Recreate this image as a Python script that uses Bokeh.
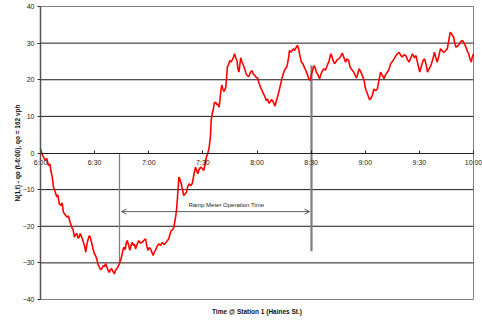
import math
from bokeh.plotting import figure
from bokeh.models import LinearAxis, FixedTicker, Arrow, OpenHead, Label
from bokeh.embed import file_html
from bokeh.resources import INLINE

# Cumulative count deviation, minutes after 6:00
minutes = [0, 0.8, 2.6, 3.5, 4.4, 5.2, 5.9, 6.5, 7.2, 8.1, 9.0, 9.6, 10.4, 11.4, 12.0, 12.7, 13.6, 14.6,
           15.5, 16.4, 17.4, 18.1, 18.8, 19.5, 20.1, 20.8, 21.4, 22.0, 22.5, 23.2, 23.8, 24.5, 25.1, 25.7,
           26.2, 27.0, 27.5, 28.0, 28.5, 29.2, 29.9, 30.5, 31.2, 31.9, 32.5, 33.2, 34.0, 34.7, 35.5, 36.1,
           36.8, 37.4, 38.1, 38.8, 39.5, 40.2, 41.0, 41.6, 42.3, 43.0, 43.6, 44.3, 45.1, 45.7, 46.2, 46.9,
           47.5, 48.0, 48.8, 49.5, 50.1, 50.8, 51.6, 52.1, 52.7, 53.5, 54.5, 55.3, 56.4, 57.2, 58.2, 58.8,
           59.5, 60.3, 61.0, 61.8, 62.5, 63.1, 63.7, 64.6, 65.6, 66.5, 67.5, 68.4, 69.3, 70.2, 71.1, 71.8,
           72.4, 73.2, 73.9, 74.5, 75.0, 75.5, 75.8, 76.3, 76.7, 77.3, 78.0, 78.7, 79.4, 80.1, 80.9, 81.6,
           82.4, 83.2, 84.1, 85.0, 85.9, 86.5, 87.2, 87.9, 88.7, 89.6, 90.5, 91.2, 92.0, 92.8, 93.5, 94.2,
           94.6, 95.2, 95.7, 96.3, 97.0, 97.7, 98.3, 99.0, 99.4, 100.0, 100.5, 101.1, 101.6, 102.2, 102.7,
           103.2, 103.6, 104.3, 104.9, 105.6, 106.3, 107.0, 107.6, 108.2, 108.9, 109.4, 110.0, 110.6, 111.0,
           111.6, 112.5, 113.3, 114.0, 114.8, 115.5, 116.3, 117.2, 118.0, 118.7, 119.5, 120.3, 121.2, 121.9,
           122.7, 123.5, 124.3, 125.2, 125.8, 126.6, 127.3, 128.0, 128.6, 129.3, 130.0, 130.7, 131.5, 132.3,
           133.2, 134.0, 134.8, 135.7, 136.6, 137.5, 138.0, 138.8, 139.5, 140.2, 140.9, 141.7, 142.4, 143.0,
           143.8, 144.6, 145.4, 146.3, 147.1, 147.9, 148.7, 149.5, 150.2, 150.8, 151.7, 152.3, 152.9, 153.8,
           154.7, 155.5, 156.2, 157.1, 158.0, 158.9, 159.9, 160.9, 161.5, 162.1, 163.0, 163.6, 164.5, 165.4,
           166.5, 167.3, 168.3, 169.1, 169.9, 170.8, 171.6, 172.5, 173.6, 174.6, 175.2, 176.0, 176.6, 177.5,
           178.3, 179.4, 179.9, 180.6, 181.2, 181.9, 182.5, 183.2, 183.9, 184.8, 185.7, 186.7, 187.6, 188.5,
           189.5, 190.4, 191.3, 192.3, 193.2, 194.1, 195.0, 196.0, 196.9, 197.8, 198.8, 199.8, 200.6, 201.5,
           202.5, 203.4, 204.3, 205.3, 206.2, 207.2, 208.1, 209.3, 210.2, 211.2, 212.1, 212.9, 213.8, 214.5,
           215.4, 216.4, 217.4, 218.4, 219.1, 219.9, 220.8, 221.7, 222.6, 223.6, 224.6, 225.5, 226.4, 227.1,
           228.0, 229.0, 229.6, 230.3, 231.3, 232.2, 233.1, 234.0, 234.9, 235.8, 236.5, 237.3, 238.0, 238.8,
           239.2, 240.0]
deviation = [1.2, -0.2, -2.0, -1.5, -3.4, -3.0, -5.2, -6.5, -9.3, -10.5, -12.0, -11.4, -13.9, -14.3, -13.6,
             -16.2, -16.8, -17.5, -17.2, -18.9, -20.4, -21.0, -23.0, -22.2, -22.0, -23.2, -23.0, -22.0, -22.5,
             -23.5, -24.4, -25.5, -27.1, -25.0, -23.9, -22.6, -22.8, -23.9, -24.8, -26.3, -27.5, -28.0, -28.9,
             -30.5, -31.0, -31.8, -31.6, -30.8, -31.0, -30.2, -31.2, -32.0, -32.6, -31.8, -31.6, -32.4, -33.0,
             -32.0, -31.6, -31.0, -30.3, -29.4, -28.0, -26.5, -25.7, -26.4, -24.8, -23.9, -25.0, -26.6, -25.4,
             -24.4, -25.3, -24.9, -26.2, -25.0, -23.9, -24.6, -24.4, -23.9, -23.4, -25.0, -26.6, -25.8, -26.2,
             -27.2, -28.0, -27.0, -26.6, -25.5, -24.8, -25.2, -24.4, -25.0, -24.6, -24.0, -23.4, -22.2, -21.2,
             -21.0, -20.3, -18.5, -17.1, -15.0, -13.0, -9.5, -6.6, -7.2, -8.4, -10.0, -11.6, -11.2, -10.7, -9.2,
             -8.4, -8.9, -8.4, -6.0, -3.9, -4.6, -5.7, -4.5, -3.9, -4.2, -4.8, -3.0, -1.1, 0.0, 1.6, 4.5, 8.9,
             10.8, 11.6, 13.6, 13.9, 13.2, 13.4, 12.5, 14.3, 17.0, 18.6, 17.5, 16.8, 17.3, 18.0, 21.0, 23.6,
             24.2, 25.3, 24.8, 25.4, 26.3, 27.1, 26.0, 25.2, 23.0, 22.1, 24.5, 26.0, 25.0, 23.9, 22.8, 21.6,
             21.0, 20.9, 22.0, 22.5, 21.5, 21.2, 20.7, 20.5, 19.0, 18.0, 17.2, 16.2, 15.5, 14.3, 14.8, 13.6,
             13.9, 14.6, 14.3, 13.6, 12.8, 14.2, 15.5, 17.1, 19.0, 20.7, 22.0, 23.0, 23.6, 26.0, 28.0, 27.5,
             28.0, 28.5, 28.0, 28.8, 29.4, 28.5, 26.6, 24.8, 24.4, 23.3, 22.5, 21.4, 20.3, 19.8, 21.5, 22.5,
             23.9, 23.2, 22.1, 21.3, 20.3, 21.6, 22.4, 23.0, 22.6, 23.9, 25.0, 27.1, 26.5, 25.3, 24.4, 24.8,
             25.5, 25.7, 26.5, 27.3, 25.9, 24.8, 25.7, 25.3, 23.4, 22.8, 22.1, 21.0, 20.5, 21.9, 23.0, 22.2,
             21.2, 19.8, 18.0, 17.0, 16.2, 15.2, 14.5, 15.0, 15.7, 17.5, 17.0, 17.5, 19.8, 22.1, 21.2, 20.3,
             21.4, 22.1, 22.9, 24.4, 25.0, 25.7, 26.5, 27.1, 27.5, 26.6, 26.2, 26.8, 26.6, 25.5, 24.8, 26.0,
             27.1, 26.0, 26.6, 24.0, 22.1, 23.8, 25.3, 25.7, 24.0, 22.1, 23.0, 23.9, 25.5, 27.5, 26.0, 24.8,
             26.5, 28.5, 27.9, 27.5, 28.0, 28.5, 31.0, 33.0, 32.4, 31.6, 30.0, 28.9, 29.2, 29.8, 30.5, 30.7,
             29.9, 28.9, 27.9, 27.1, 25.8, 24.8, 26.0, 27.1]

tick_minutes = [0, 30, 60, 90, 120, 150, 180, 210, 240]
tick_labels = ["6:00", "6:30", "7:00", "7:30", "8:00", "8:30", "9:00", "9:30", "10:00"]
y_ticks = [-40, -30, -20, -10, 0, 10, 20, 30, 40]
grid_ticks = [-30, -20, -10, 10, 20, 30]
t_start, t_end = 0, 240
y_low, y_high = -40, 40

# Ramp meter on/off markers (minutes after 6:00) and their vertical extents
meter_x = [43.8, 150.2]
meter_top = [0.0, 23.9]
meter_bottom = [-30.5, -26.8]
arrow_from, arrow_to, arrow_y = 44.9, 149.1, -16.0

FONT = "Liberation Sans"
W, H = 482, 323
PAD_L, PAD_R, PAD_T, PAD_B = 40, 9, 6, 24

# The frame fills the canvas; the ranges are widened so that the charted
# window (6:00-10:00, -40..40) sits inside with room for the axis text.
sx = (W - PAD_L - PAD_R) / (t_end - t_start)
sy = (H - PAD_T - PAD_B) / (y_high - y_low)
x_range = (t_start - PAD_L / sx, t_end + PAD_R / sx)
y_range = (y_low - PAD_B / sy, y_high + PAD_T / sy)

p = figure(width=W, height=H, x_range=x_range, y_range=y_range,
           output_backend="svg", toolbar_location=None,
           x_axis_location=None, y_axis_location=None, min_border=0)
p.background_fill_color = "white"
p.border_fill_color = "white"
p.outline_line_color = None
for g in p.grid:
    g.visible = False

# horizontal grid lines
p.segment(x0=[t_start] * len(grid_ticks), y0=grid_ticks,
          x1=[t_end] * len(grid_ticks), y1=grid_ticks,
          line_color="#1a1a1a", line_width=1)

# chart border
p.quad(left=[t_start], right=[t_end], bottom=[y_low], top=[y_high],
       fill_color=None, line_color="#808080", line_width=1)

# value axis on the left edge of the chart window
value_axis = LinearAxis(fixed_location=t_start, bounds=(y_low, y_high),
                        ticker=FixedTicker(ticks=y_ticks))
value_axis.minor_tick_line_color = None
value_axis.major_tick_in = 0
value_axis.major_tick_out = 3
value_axis.axis_line_color = "#555555"
value_axis.axis_line_width = 1.5
value_axis.major_tick_line_color = "#333333"
value_axis.major_label_text_font = FONT
value_axis.major_label_text_font_size = "7px"
value_axis.major_label_text_color = "#222222"
value_axis.major_label_standoff = 3
p.add_layout(value_axis, "left")

# time axis crossing at zero
time_axis = LinearAxis(fixed_location=0, bounds=(t_start, t_end),
                       ticker=FixedTicker(ticks=tick_minutes),
                       major_label_overrides={t: s for t, s in zip(tick_minutes, tick_labels)})
time_axis.minor_tick_line_color = None
time_axis.major_tick_in = 3
time_axis.major_tick_out = 0
time_axis.axis_line_color = "#222222"
time_axis.axis_line_width = 1.2
time_axis.major_tick_line_color = "#222222"
time_axis.major_label_text_font = FONT
time_axis.major_label_text_font_size = "7px"
time_axis.major_label_text_color = "#222222"
time_axis.major_label_standoff = 6
p.add_layout(time_axis, "below")

# axis titles
p.add_layout(Label(x=t_start - 23 / sx, y=(y_low + y_high) / 2, text="N(1,t) - qo (t-6:00), qo = 162 vph",
                   angle=math.pi / 2, text_font=FONT, text_font_size="6.5px", text_font_style="bold",
                   text_align="center", text_baseline="middle", text_color="#111111"))
p.add_layout(Label(x=(t_start + t_end) / 2, y=y_low - 12 / sy, text="Time @ Station 1 (Haines St.)",
                   text_font=FONT, text_font_size="6.5px", text_font_style="bold",
                   text_align="center", text_baseline="middle", text_color="#111111"))

# ramp meter start / end markers
p.segment(x0=meter_x, y0=meter_top, x1=meter_x, y1=meter_bottom,
          line_color="#7f7f7f", line_width=[1.2, 2.2])

p.add_layout(Arrow(start=OpenHead(size=5, line_width=0.8, line_color="#333333"),
                   end=OpenHead(size=5, line_width=0.8, line_color="#333333"),
                   x_start=arrow_from, y_start=arrow_y, x_end=arrow_to, y_end=arrow_y,
                   line_width=0.8, line_color="#333333"))
p.add_layout(Label(x=(arrow_from + arrow_to) / 2 + 6, y=-14.3, text="Ramp Meter Operation Time",
                   text_font=FONT, text_font_size="6px", text_align="center",
                   text_baseline="middle", text_color="#222222"))

p.line(minutes, deviation, line_color="#ff0000", line_width=1.6)

open("out.html", "w").write(file_html(p, INLINE))
